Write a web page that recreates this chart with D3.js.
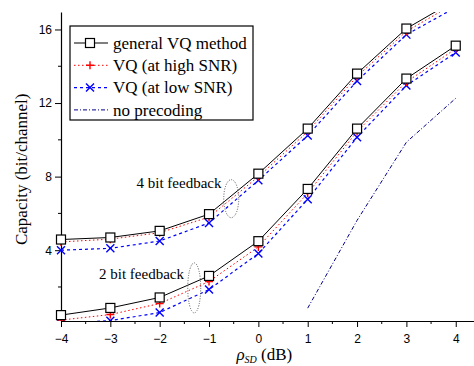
<!DOCTYPE html>
<html>
<head>
<meta charset="utf-8">
<script src="https://cdn.jsdelivr.net/npm/d3@7"></script>
<style>
  body { margin: 0; background: #fff; }
  svg { display: block; }
  .tick text { font-family: Arial, 'Liberation Sans', sans-serif; font-size: 12px; fill: #000; }
  .serif { font-family: 'Liberation Serif', 'Times New Roman', serif; fill: #000; }
</style>
</head>
<body>
<svg id="chart"></svg>
<script>
const rho = [-4, -3, -2, -1, 0, 1, 2, 3, 4]

// 4 bit feedback
const general4 = [4.58, 4.69, 5.05, 5.96, 8.16, 10.61, 13.6, 16.05, 17.6]
const highSnr4 = [4.45, 4.6, 4.95, 5.8, 8.0, 10.45, 13.45, 15.9, 17.45]
const lowSnr4 = [4.0, 4.1, 4.5, 5.48, 7.8, 10.23, 13.2, 15.72, 17.2]
// 2 bit feedback
const general2 = [0.47, 0.86, 1.43, 2.6, 4.49, 7.33, 10.61, 13.33, 15.12]
const highSnr2 = [0.2, 0.5, 1.1, 2.3, 4.18, 7.1, 10.45, 13.15, 14.95]
const lowSnr2 = [0.02, 0.17, 0.61, 1.86, 3.82, 6.77, 10.14, 12.95, 14.75]
// no precoding
const noPrecRho = [1, 2, 3, 4]
const noPrec = [0.85, 5.62, 9.87, 12.26]

const xTicks = [-4, -3, -2, -1, 0, 1, 2, 3, 4]
const yTicks = [4, 8, 12, 16]
const legendLabels = ['general VQ method', 'VQ (at high SNR)', 'VQ (at low SNR)', 'no precoding']

const width = 474
const height = 366
const margin = { top: 12, right: 0, bottom: 45, left: 61 }
const _w = width - margin.left - margin.right
const _h = height - margin.top - margin.bottom

const svg = d3.select('#chart').attr('width', width).attr('height', height)

const x = d3.scaleLinear().domain([-4, 4.37]).range([0, _w])
const y = d3.scaleLinear().domain([0.15, 16.95]).range([_h, 0])

const g = svg.append('g').attr('transform', `translate(${margin.left},${margin.top})`)

g.append('clipPath').attr('id', 'clip')
  .append('rect').attr('x', -6).attr('y', 0).attr('width', _w + 6).attr('height', _h)

// axes
const xAxis = g.append('g').attr('transform', `translate(0,${_h})`)
  .call(d3.axisBottom(x).tickValues(xTicks).tickSize(6).tickSizeOuter(0).tickFormat(d3.format('d')))
xAxis.append('g').selectAll('line')
  .data(d3.range(-3.5, 4.5, 1))
  .join('line')
  .attr('x1', (d) => x(d)).attr('x2', (d) => x(d))
  .attr('y1', 0).attr('y2', 3).attr('stroke', '#000')
xAxis.selectAll('.tick text').attr('dy', '1.1em')

const yAxis = g.append('g')
  .call(d3.axisLeft(y).tickValues(yTicks).tickSize(6).tickSizeOuter(0))
yAxis.append('g').selectAll('line')
  .data([2, 6, 10, 14])
  .join('line')
  .attr('y1', (d) => y(d)).attr('y2', (d) => y(d))
  .attr('x1', 0).attr('x2', -3).attr('stroke', '#000')
svg.selectAll('.domain').attr('stroke', '#000').attr('stroke-width', 1.2)

// axis titles
svg.append('text').attr('class', 'serif')
  .attr('transform', `translate(27,${margin.top + y(8.4)}) rotate(-90)`)
  .attr('text-anchor', 'middle').attr('font-size', 17)
  .text('Capacity (bit/channel)')

const xt = svg.append('text').attr('class', 'serif')
  .attr('x', margin.left + x(0.12)).attr('y', 360)
  .attr('text-anchor', 'middle').attr('font-size', 17)
xt.append('tspan').attr('font-style', 'italic').text('ρ')
xt.append('tspan').attr('font-size', 10).attr('font-style', 'italic').attr('dy', 3).text('SD')
xt.append('tspan').attr('dy', -3).text(' (dB)')

// series
const plot = g.append('g').attr('clip-path', 'url(#clip)')
const line = d3.line().x((d) => x(d[0])).y((d) => y(d[1]))

const series = [
  { data: general4, color: '#000', dash: null, marker: 'square', w: 1 },
  { data: general2, color: '#000', dash: null, marker: 'square', w: 1 },
  { data: highSnr4, color: '#ff0000', dash: '1.5,2.5', marker: 'plus', w: 1 },
  { data: highSnr2, color: '#ff0000', dash: '1.5,2.5', marker: 'plus', w: 1 },
  { data: lowSnr4, color: '#0000ff', dash: '3,3', marker: 'cross', w: 1.2 },
  { data: lowSnr2, color: '#0000ff', dash: '3,3', marker: 'cross', w: 1.2 }
]

function drawMarker(sel, type, color) {
  if (type === 'square') {
    sel.append('rect').attr('x', -4.5).attr('y', -4.5).attr('width', 9).attr('height', 9)
      .attr('fill', '#fff').attr('stroke', '#000').attr('stroke-width', 1.2)
  } else if (type === 'plus') {
    sel.append('path').attr('d', 'M-4,0H4M0,-4V4').attr('stroke', color).attr('stroke-width', 1.4)
  } else if (type === 'cross') {
    sel.append('path').attr('d', 'M-4,-4L4,4M-4,4L4,-4').attr('stroke', color).attr('stroke-width', 1.4)
  }
}

// draw lines first (low/high under general), markers later
const order = [4, 5, 2, 3, 0, 1]
order.forEach((i) => {
  const s = series[i]
  plot.append('path')
    .datum(rho.map((r, k) => [r, s.data[k]]))
    .attr('d', line)
    .attr('fill', 'none')
    .attr('stroke', s.color)
    .attr('stroke-width', s.w)
    .attr('stroke-dasharray', s.dash)
})

plot.append('path')
  .datum(noPrecRho.map((r, k) => [r, noPrec[k]]))
  .attr('d', line)
  .attr('fill', 'none')
  .attr('stroke', '#00008b')
  .attr('stroke-width', 1)
  .attr('stroke-dasharray', '4,2,1,2')

order.forEach((i) => {
  const s = series[i]
  plot.append('g').selectAll('g')
    .data(rho.map((r, k) => [r, s.data[k]]).filter((d) => d[1] <= 16.95))
    .join('g')
    .attr('transform', (d) => `translate(${x(d[0])},${y(d[1])})`)
    .each(function () { drawMarker(d3.select(this), s.marker, s.color) })
})

// annotations
g.append('text').attr('class', 'serif').attr('font-size', 15)
  .attr('x', x(-2.47)).attr('y', y(7.38)).text('4 bit feedback')
g.append('ellipse').attr('cx', x(-0.55)).attr('cy', y(6.8)).attr('rx', 7.5).attr('ry', 19)
  .attr('fill', 'none').attr('stroke', '#555').attr('stroke-dasharray', '1,1.5')
g.append('text').attr('class', 'serif').attr('font-size', 15)
  .attr('x', x(-3.23)).attr('y', y(2.43)).text('2 bit feedback')
g.append('ellipse').attr('cx', x(-1.3)).attr('cy', y(1.95)).attr('rx', 6.5).attr('ry', 25)
  .attr('fill', 'none').attr('stroke', '#555').attr('stroke-dasharray', '1,1.5')

// legend
const lg = svg.append('g').attr('transform', 'translate(70,26)')
lg.append('rect').attr('width', 183).attr('height', 94)
  .attr('fill', '#fff').attr('stroke', '#000').attr('stroke-width', 1.2)
const legendStyles = [
  { color: '#000', dash: null, marker: 'square', w: 1.2 },
  { color: '#ff0000', dash: '1.5,2.5', marker: 'plus', w: 1 },
  { color: '#0000ff', dash: '3,3', marker: 'cross', w: 1.2 },
  { color: '#00008b', dash: '4,2,1,2', marker: null, w: 1 }
]
legendLabels.forEach((label, i) => {
  const row = lg.append('g').attr('transform', `translate(0,${17 + i * 22.3})`)
  const st = legendStyles[i]
  row.append('line').attr('x1', 4).attr('x2', 38).attr('stroke', st.color)
    .attr('stroke-width', st.w).attr('stroke-dasharray', st.dash)
  if (st.marker) drawMarker(row.append('g').attr('transform', 'translate(20,0)'), st.marker, st.color)
  row.append('text').attr('class', 'serif').attr('font-size', 17)
    .attr('x', 43).attr('dy', '0.33em').text(label)
})
</script>
</body>
</html>
